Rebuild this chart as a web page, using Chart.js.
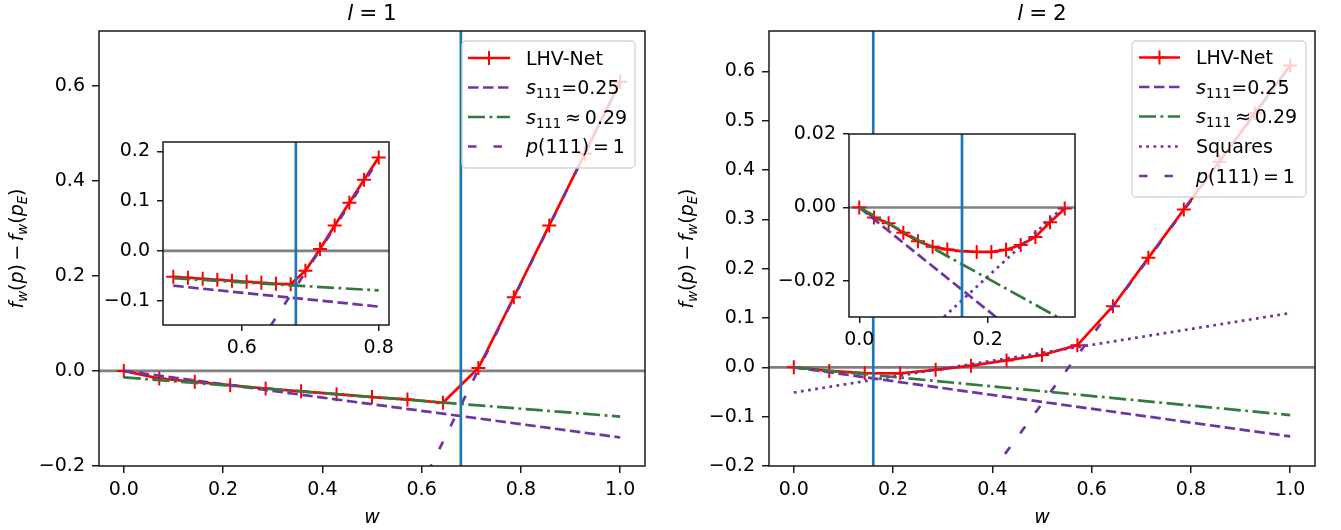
<!DOCTYPE html>
<html><head><meta charset="utf-8">
<script src="https://cdn.jsdelivr.net/npm/chart.js@4.4.1/dist/chart.umd.min.js"></script>
<style>
html,body{margin:0;padding:0;background:#fff;width:1341px;height:530px;overflow:hidden;}
body{position:relative;}
canvas{position:absolute;}
</style></head><body>
<canvas id="m1" width="670" height="530" style="left:0px;top:0px"></canvas>
<canvas id="m2" width="671" height="530" style="left:670px;top:0px"></canvas>
<canvas id="i1" width="300" height="232" style="left:100px;top:128px"></canvas>
<canvas id="i2" width="320" height="232" style="left:770px;top:120px"></canvas>
<script>
// ================= DATA =================
const wMain = [0, 0.0714, 0.1429, 0.2143, 0.2857, 0.3571, 0.4286, 0.5, 0.5714, 0.6429, 0.7143, 0.7857, 0.8571, 0.9286, 1.0];
const lhvL1 = [0, -0.016, -0.023, -0.030, -0.037, -0.043, -0.049, -0.055, -0.060, -0.067, 0.006, 0.155, 0.306, 0.457, 0.608];
const lhvL2 = [0, -0.0072, -0.0115, -0.012, -0.005, 0.0035, 0.014, 0.025, 0.045, 0.124, 0.222, 0.320, 0.417, 0.515, 0.612];

const wInset1 = [0.5, 0.5214, 0.5429, 0.5643, 0.5857, 0.6071, 0.6286, 0.65, 0.6714, 0.6929, 0.7143, 0.7357, 0.7571, 0.7786, 0.8];
const lhvInset1 = [-0.052, -0.054, -0.056, -0.058, -0.060, -0.062, -0.064, -0.066, -0.067, -0.040, 0.004, 0.051, 0.097, 0.143, 0.188];
const wInset2 = [0, 0.0229, 0.0457, 0.0686, 0.0914, 0.1143, 0.1371, 0.16, 0.1829, 0.2057, 0.2286, 0.2514, 0.2743, 0.2971, 0.32];
const lhvInset2 = [0, -0.0027, -0.0043, -0.0069, -0.0092, -0.0107, -0.0114, -0.0119, -0.0121, -0.0121, -0.0115, -0.0102, -0.0080, -0.0040, -0.0003];

// straight reference lines (end points)
const wEnds = [0, 1];
const s025Main = [0, -0.14];
const s029MainL1 = [-0.0135, -0.096];
const s029MainL2 = [0, -0.0967];
const squaresMainL2 = [-0.051, 0.110];
const p111MainL1 = [-1.512, 0.608];
const p111MainL2 = [-0.759, 0.612];

const wEndsInset1 = [0.5, 0.8];
const s025Inset1 = [-0.070, -0.112];
const s029Inset1 = [-0.055, -0.0795];
const p111Inset1 = [-0.452, 0.184];

const wEndsInset2 = [0, 0.32];
const s025Inset2 = [0, -0.0448];
const s029Inset2 = [0, -0.0309];
const squaresInset2 = [-0.051, 0.0005];
const p111Inset2 = [-0.759, -0.320];

const wStarL1 = 0.679;
const wStarL2 = 0.16;

// ticks
const xTicksMain = [0, 0.2, 0.4, 0.6, 0.8, 1.0];
const xLabelsMain = ['0.0', '0.2', '0.4', '0.6', '0.8', '1.0'];
const yTicksL1 = [-0.2, 0, 0.2, 0.4, 0.6];
const yLabelsL1 = ['\u22120.2', '0.0', '0.2', '0.4', '0.6'];
const yTicksL2 = [-0.2, -0.1, 0, 0.1, 0.2, 0.3, 0.4, 0.5, 0.6];
const yLabelsL2 = ['\u22120.2', '\u22120.1', '0.0', '0.1', '0.2', '0.3', '0.4', '0.5', '0.6'];
const xTicksIn1 = [0.6, 0.8];
const xLabelsIn1 = ['0.6', '0.8'];
const yTicksIn1 = [-0.1, 0, 0.1, 0.2];
const yLabelsIn1 = ['\u22120.1', '0.0', '0.1', '0.2'];
const xTicksIn2 = [0, 0.2];
const xLabelsIn2 = ['0.0', '0.2'];
const yTicksIn2 = [-0.02, 0, 0.02];
const yLabelsIn2 = ['\u22120.02', '0.00', '0.02'];

// ================= STYLE =================
const FONT = "'DejaVu Sans'";
const FS = 19;
const PURPLE = '#7034a2';
const GREEN = '#347a3e';
const LW = 2.7;
const ST = {
  lhv:  {color: '#ff0000', dash: [], marker: true, order: 9},
  s025: {color: PURPLE, dash: [10.5, 4.5], order: 7},
  s029: {color: GREEN, dash: [17, 4.5, 2.8, 4.5], order: 6},
  sq:   {color: PURPLE, dash: [2.8, 4.4], order: 5},
  p111: {color: PURPLE, dash: [8.5, 17], order: 4},
  h0:   {color: '#808080', dash: [], order: 10},
  vl:   {color: '#1f77b4', dash: [], order: 1}
};

const pts = (xs, ys) => xs.map((x, i) => ({x: x, y: ys[i]}));
function ds(data, st) {
  return {
    data: data, borderColor: st.color, backgroundColor: st.color, borderWidth: LW,
    borderDash: st.dash, tension: 0, fill: false, clip: 0, order: st.order,
    pointRadius: st.marker ? 7 : 0, pointHoverRadius: 0, pointStyle: 'cross',
    pointBorderColor: st.color, pointBorderWidth: 2, borderJoinStyle: 'round',
    borderCapStyle: st.dash.length ? 'butt' : 'square'
  };
}

// rich text (italic / subscript / gaps in em)
const T = (t, o) => Object.assign({t: t}, o || {});
const G = (em) => ({gap: em});
function drawRich(ctx, segs, x, y, fs, align) {
  let w = 0;
  const parts = segs.map(s => {
    if (s.gap !== undefined) { const g = s.gap * fs; w += g; return {gap: g}; }
    const size = s.sub ? fs * 0.7 : fs;
    const font = (s.it ? 'italic ' : '') + size + 'px ' + FONT;
    ctx.font = font;
    const m = ctx.measureText(s.t).width;
    w += m;
    return {t: s.t, font: font, m: m, dy: s.sub ? fs * 0.22 : 0};
  });
  let cx = align === 'center' ? x - w / 2 : x;
  ctx.textAlign = 'left'; ctx.textBaseline = 'alphabetic'; ctx.fillStyle = '#000';
  parts.forEach(p => {
    if (p.gap !== undefined) { cx += p.gap; return; }
    ctx.font = p.font; ctx.fillText(p.t, cx, y + p.dy); cx += p.m;
  });
}

const LBL = {
  lhv: [T('LHV-Net')],
  s025: [T('s', {it: 1}), T('111', {sub: 1}), T('=0.25')],
  s029: [T('s', {it: 1}), T('111', {sub: 1}), G(0.2), T('\u2248'), G(0.2), T('0.29')],
  sq: [T('Squares')],
  p111: [T('p', {it: 1}), T('(111)'), G(0.2), T('='), G(0.2), T('1')]
};
const YLAB = [T('f', {it: 1}), T('w', {it: 1, sub: 1}), T('('), T('p', {it: 1}), T(')'), G(0.18), T('\u2212'), G(0.18),
  T('f', {it: 1}), T('w', {it: 1, sub: 1}), T('('), T('p', {it: 1}), T('E', {it: 1, sub: 1}), T(')')];
const XLAB = [T('w', {it: 1})];

function drawHandle(ctx, st, x0, x1, y) {
  ctx.save();
  ctx.strokeStyle = st.color; ctx.lineWidth = LW; ctx.setLineDash(st.dash);
  ctx.lineCap = 'butt';
  ctx.beginPath(); ctx.moveTo(x0, y); ctx.lineTo(x1, y); ctx.stroke();
  if (st.marker) {
    const xm = (x0 + x1) / 2, r = 7;
    ctx.setLineDash([]); ctx.lineWidth = 2;
    ctx.beginPath(); ctx.moveTo(xm - r, y); ctx.lineTo(xm + r, y);
    ctx.moveTo(xm, y - r); ctx.lineTo(xm, y + r); ctx.stroke();
  }
  ctx.restore();
}

function makePlugin(cfg) {
  return {
    id: 'panel',
    beforeDraw(chart) {
      if (cfg.inset) {
        const a = chart.chartArea, ctx = chart.ctx;
        ctx.save(); ctx.fillStyle = '#fff';
        ctx.fillRect(a.left, a.top, a.right - a.left, a.bottom - a.top);
        ctx.restore();
      }
    },
    afterDatasetsDraw(chart) {
      const a = chart.chartArea, ctx = chart.ctx;
      ctx.save(); ctx.strokeStyle = '#1a1a1a'; ctx.lineWidth = 1.5;
      ctx.strokeRect(a.left, a.top, a.right - a.left, a.bottom - a.top);
      ctx.restore();
    },
    afterDraw(chart) {
      const a = chart.chartArea, ctx = chart.ctx;
      const cx = (a.left + a.right) / 2;
      if (cfg.title) drawRich(ctx, cfg.title, cx, 19.5, 21.5, 'center');
      if (cfg.xlabel) drawRich(ctx, cfg.xlabel, cx, 523, FS, 'center');
      if (cfg.ylabel) {
        ctx.save(); ctx.translate(23, (a.top + a.bottom) / 2); ctx.rotate(-Math.PI / 2);
        drawRich(ctx, cfg.ylabel, 0, 0, FS, 'center');
        ctx.restore();
      }
      if (cfg.legend) {
        const L = cfg.legend;
        ctx.save();
        ctx.fillStyle = 'rgba(255,255,255,0.8)';
        ctx.strokeStyle = '#d4d4d4'; ctx.lineWidth = 1.3;
        ctx.beginPath(); ctx.roundRect(L.box[0], L.box[1], L.box[2] - L.box[0], L.box[3] - L.box[1], 4);
        ctx.fill(); ctx.stroke();
        ctx.restore();
        L.keys.forEach((k, i) => {
          const y = L.ys[i];
          drawHandle(ctx, ST[k], L.hx[0], L.hx[1], y);
          drawRich(ctx, LBL[k], L.tx, y + 6.8, FS, 'left');
        });
      }
    }
  };
}

function axis(horizontal, min, max, ticks, labels, size, tickLen, pad) {
  return {
    type: 'linear', min: min, max: max, bounds: 'data',
    position: horizontal ? 'bottom' : 'left',
    afterBuildTicks: s => { s.ticks = ticks.map(v => ({value: v})); },
    afterFit: s => {
      if (horizontal) { s.height = size; } else { s.width = size; }
      s.paddingLeft = 0; s.paddingRight = 0; s.paddingTop = 0; s.paddingBottom = 0;
    },
    grid: {drawOnChartArea: false, drawTicks: true, tickLength: tickLen, color: '#1a1a1a', lineWidth: 1.5},
    border: {display: false},
    ticks: {autoSkip: false, maxRotation: 0, minRotation: 0, padding: pad, color: '#000',
      font: {family: FONT, size: FS}, callback: (v, i) => labels[i]}
  };
}

function panel(id, p) {
  return new Chart(document.getElementById(id), {
    type: 'line',
    data: {datasets: p.datasets},
    options: {
      responsive: false, animation: false, events: [], devicePixelRatio: 1,
      layout: {padding: {left: 0, top: p.padTop, right: p.padRight, bottom: 0}},
      plugins: {legend: {display: false}, tooltip: {enabled: false}, title: {display: false}},
      scales: {
        x: axis(true, p.xr[0], p.xr[1], p.xt, p.xl, p.xH, p.tl, 6),
        y: axis(false, p.yr[0], p.yr[1], p.yt, p.yl, p.yW, p.tl, 7)
      }
    },
    plugins: [makePlugin(p.deco)]
  });
}

const hline = () => pts([-2, 2], [0, 0]);
const vline = (w) => pts([w, w], [-2, 2]);

// ===== left main =====
panel('m1', {
  xr: [-0.05, 1.05], yr: [-0.2, 0.715], xt: xTicksMain, xl: xLabelsMain, yt: yTicksL1, yl: yLabelsL1,
  xH: 64, yW: 99, padTop: 31, padRight: 25, tl: 7,
  datasets: [
    ds(hline(), ST.h0),
    ds(pts(wMain, lhvL1), ST.lhv),
    ds(pts(wEnds, s025Main), ST.s025),
    ds(pts(wEnds, s029MainL1), ST.s029),
    ds(pts(wEnds, p111MainL1), ST.p111),
    ds(vline(wStarL1), ST.vl)
  ],
  deco: {title: [T('l', {it: 1}), G(0.27), T('='), G(0.27), T('1')], xlabel: XLAB, ylabel: YLAB,
    legend: {box: [462, 41, 635, 168], ys: [58, 87.5, 117, 146.5], hx: [468, 510], tx: 526,
      keys: ['lhv', 's025', 's029', 'p111']}}
});

// ===== right main =====
panel('m2', {
  xr: [-0.05, 1.05], yr: [-0.2, 0.682], xt: xTicksMain, xl: xLabelsMain, yt: yTicksL2, yl: yLabelsL2,
  xH: 64, yW: 99, padTop: 31, padRight: 26, tl: 7,
  datasets: [
    ds(hline(), ST.h0),
    ds(pts(wMain, lhvL2), ST.lhv),
    ds(pts(wEnds, s025Main), ST.s025),
    ds(pts(wEnds, s029MainL2), ST.s029),
    ds(pts(wEnds, squaresMainL2), ST.sq),
    ds(pts(wEnds, p111MainL2), ST.p111),
    ds(vline(wStarL2), ST.vl)
  ],
  deco: {title: [T('l', {it: 1}), G(0.27), T('='), G(0.27), T('2')], xlabel: XLAB, ylabel: YLAB,
    legend: {box: [462, 41, 636, 197], ys: [57.5, 87, 116.5, 146.5, 176], hx: [469, 510], tx: 526,
      keys: ['lhv', 's025', 's029', 'sq', 'p111']}}
});

// ===== left inset =====
panel('i1', {
  xr: [0.485, 0.815], yr: [-0.149, 0.219], xt: xTicksIn1, xl: xLabelsIn1, yt: yTicksIn1, yl: yLabelsIn1,
  xH: 35, yW: 63, padTop: 14, padRight: 11, tl: 6,
  datasets: [
    ds(hline(), ST.h0),
    ds(pts(wInset1, lhvInset1), ST.lhv),
    ds(pts(wEndsInset1, s025Inset1), ST.s025),
    ds(pts(wEndsInset1, s029Inset1), ST.s029),
    ds(pts(wEndsInset1, p111Inset1), ST.p111),
    ds(vline(wStarL1), ST.vl)
  ],
  deco: {inset: true}
});

// ===== right inset =====
panel('i2', {
  xr: [-0.016, 0.336], yr: [-0.0298, 0.02], xt: xTicksIn2, xl: xLabelsIn2, yt: yTicksIn2, yl: yLabelsIn2,
  xH: 35, yW: 79, padTop: 14, padRight: 15, tl: 6,
  datasets: [
    ds(hline(), ST.h0),
    ds(pts(wInset2, lhvInset2), ST.lhv),
    ds(pts(wEndsInset2, s025Inset2), ST.s025),
    ds(pts(wEndsInset2, s029Inset2), ST.s029),
    ds(pts(wEndsInset2, squaresInset2), ST.sq),
    ds(pts(wEndsInset2, p111Inset2), ST.p111),
    ds(vline(wStarL2), ST.vl)
  ],
  deco: {inset: true}
});
</script>
</body></html>
